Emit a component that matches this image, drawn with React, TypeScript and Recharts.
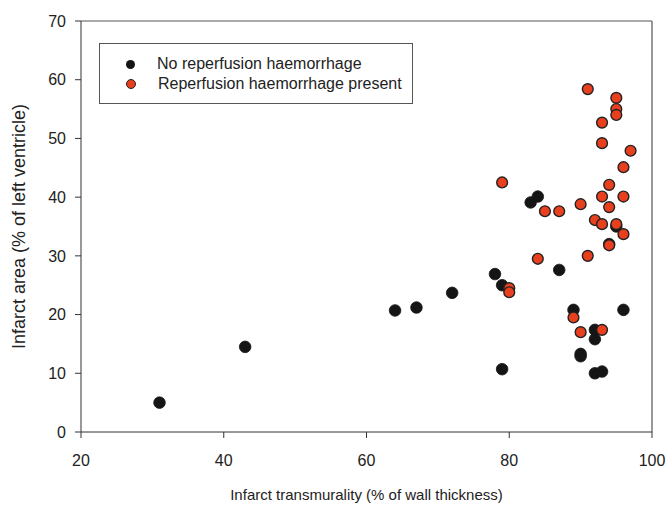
import React from 'react';
import {
  ScatterChart,
  Scatter,
  XAxis,
  YAxis,
  Legend,
  ReferenceLine,
} from 'recharts';

// black dots: no reperfusion haemorrhage
const noHaemX = [31, 43, 64, 67, 72, 78, 79, 79, 83, 84, 87, 89, 90, 90, 92, 92, 92, 93, 94, 95, 96];
const noHaemY = [5.0, 14.5, 20.7, 21.2, 23.7, 26.9, 25.0, 10.7, 39.1, 40.1, 27.6, 20.8, 13.3, 12.9, 17.4, 15.8, 10.0, 10.3, 32.0, 35.0, 20.8];

// red dots: reperfusion haemorrhage present
const haemX = [79, 80, 80, 84, 85, 87, 90, 91, 91, 92, 93, 93, 93, 93, 94, 94, 94, 95, 95, 95, 95, 96, 96, 96, 97, 89, 90, 93];
const haemY = [42.5, 24.5, 23.8, 29.5, 37.6, 37.6, 38.8, 30.0, 58.4, 36.1, 52.7, 49.2, 40.1, 35.4, 42.1, 38.3, 31.8, 56.9, 55.0, 54.0, 35.4, 45.1, 40.1, 33.7, 47.9, 19.5, 17.0, 17.4];

const xTicks = [20, 40, 60, 80, 100];
const yTicks = [0, 10, 20, 30, 40, 50, 60, 70];

const noHaem = noHaemX.map((x, i) => ({ x, y: noHaemY[i] }));
const haem = haemX.map((x, i) => ({ x, y: haemY[i] }));

const FONT = 'Liberation Sans, Arial, sans-serif';

const BlackDot = (props: any) => (
  <circle cx={props.cx} cy={props.cy} r={5.8} fill="#151515" stroke="#151515" strokeWidth={0.8} />
);

const RedDot = (props: any) => (
  <circle cx={props.cx} cy={props.cy} r={5.4} fill="#e8401e" stroke="#222" strokeWidth={1.4} />
);

const renderLegend = () => (
  <div
    style={{
      width: 314,
      height: 61,
      border: '1px solid #555',
      boxSizing: 'border-box',
      fontFamily: FONT,
      fontSize: 16,
      color: '#222',
      paddingTop: 10,
      paddingLeft: 26,
      background: '#fff',
      textAlign: 'left',
    }}
  >
    <div style={{ display: 'flex', alignItems: 'center', height: 20 }}>
      <span style={{ width: 9, height: 9, borderRadius: 5, background: '#151515', display: 'inline-block' }} />
      <span style={{ marginLeft: 22 }}>No reperfusion haemorrhage</span>
    </div>
    <div style={{ display: 'flex', alignItems: 'center', height: 20 }}>
      <span style={{ width: 8, height: 8, borderRadius: 5, background: '#e8401e', border: '0.8px solid #222', display: 'inline-block' }} />
      <span style={{ marginLeft: 22 }}>Reperfusion haemorrhage present</span>
    </div>
  </div>
);

export default function App() {
  return (
    <div style={{ position: 'fixed', left: 0, top: 0, width: 672, height: 505, background: '#fff' }}>
      <ScatterChart width={672} height={505} margin={{ top: 21, right: 20, bottom: 0, left: 0 }}>
        <XAxis
          type="number"
          dataKey="x"
          domain={[20, 100]}
          ticks={xTicks}
          allowDataOverflow
          height={73}
          tickSize={6}
          tickMargin={17}
          stroke="#333"
          tick={{ fill: '#222', fontSize: 16, fontFamily: FONT }}
          label={{ value: 'Infarct transmurality (% of wall thickness)', position: 'insideBottom', offset: 5, fill: '#222', fontSize: 15, fontFamily: FONT }}
        />
        <YAxis
          type="number"
          dataKey="y"
          domain={[0, 70]}
          ticks={yTicks}
          allowDataOverflow
          width={81}
          tickSize={6}
          tickMargin={9}
          stroke="#333"
          tick={{ fill: '#222', fontSize: 16, fontFamily: FONT }}
          label={{ value: 'Infarct area (% of left ventricle)', angle: -90, position: 'insideLeft', offset: 19, fill: '#222', fontSize: 18, fontFamily: FONT, style: { textAnchor: 'middle' } }}
        />
        <ReferenceLine y={70} stroke="#555" strokeWidth={1.2} />
        <ReferenceLine x={100} stroke="#555" strokeWidth={1.2} />
        <Legend
          content={renderLegend}
          layout="horizontal"
          verticalAlign="middle"
          align="center"
          wrapperStyle={{ position: 'absolute', left: 99, top: 43, width: 314, height: 61 }}
        />
        <Scatter name="No reperfusion haemorrhage" data={noHaem} shape={<BlackDot />} isAnimationActive={false} />
        <Scatter name="Reperfusion haemorrhage present" data={haem} shape={<RedDot />} isAnimationActive={false} />
      </ScatterChart>
    </div>
  );
}
